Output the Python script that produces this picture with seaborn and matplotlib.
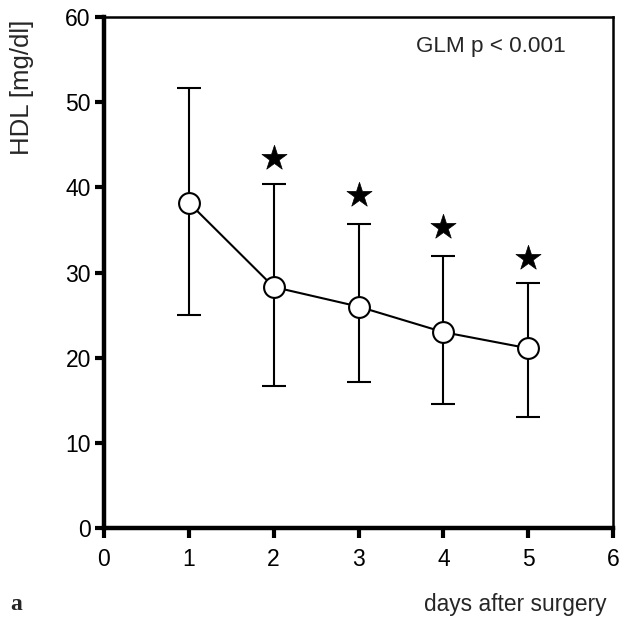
import matplotlib
matplotlib.use("Agg")
import matplotlib.pyplot as plt
import seaborn as sns
import numpy as np
import pandas as pd

days = [1, 2, 3, 4, 5]
hdl_mean = [38.2, 28.3, 26.0, 23.0, 21.1]
hdl_upper = [51.7, 40.4, 35.7, 31.9, 28.8]
hdl_lower = [25.0, 16.7, 17.1, 14.6, 13.0]
star_days = [2, 3, 4, 5]
star_y = [43.4, 39.1, 35.4, 31.7]
x_ticks = [0, 1, 2, 3, 4, 5, 6]
y_ticks = [0, 10, 20, 30, 40, 50, 60]

sns.set_theme(style="white")
plt.rcParams['font.family'] = ['Liberation Sans', 'DejaVu Sans']

df = pd.DataFrame({"day": days, "hdl": hdl_mean})
stars = pd.DataFrame({"day": star_days, "y": star_y})

fig = plt.figure(figsize=(6.29, 6.30), dpi=100)
ax = fig.add_axes([104/629, 1-528/630, (613-104)/629, (528-17)/630])

mean = np.array(hdl_mean)
yerr = np.vstack([mean - np.array(hdl_lower), np.array(hdl_upper) - mean])
ax.errorbar(days, hdl_mean, yerr=yerr, fmt='none', ecolor='black',
            elinewidth=1.5, capsize=8.5, capthick=1.5, zorder=1)
sns.lineplot(data=df, x="day", y="hdl", ax=ax, color='black', linewidth=1.5,
             marker='o', markersize=15, markerfacecolor='white',
             markeredgecolor='black', markeredgewidth=1.5, zorder=3)
sns.scatterplot(data=stars, x="day", y="y", ax=ax, marker='*', s=360,
                color='black', edgecolor='black', linewidth=0.5, zorder=4)

ax.set_xlim(0, 6)
ax.set_ylim(0, 60)
ax.set_xticks(x_ticks)
ax.set_yticks(y_ticks)
ax.tick_params(axis='both', labelsize=16.5, colors='black', direction='out')
ax.tick_params(axis='x', length=7.5, width=3, pad=7)
ax.tick_params(axis='y', length=6.5, width=3, pad=3)
ax.tick_params(left=True, bottom=True)

for s in ['left', 'bottom']:
    ax.spines[s].set_linewidth(3.2)
    ax.spines[s].set_color('black')
for s in ['top', 'right']:
    ax.spines[s].set_linewidth(1.8)
    ax.spines[s].set_color('black')

ax.set_xlabel('')
ax.set_ylabel('')
fig.text(22/629, 1-20/630, 'HDL [mg/dl]', fontsize=18.5, rotation=90,
         ha='center', va='top')
fig.text(606/629, 1-604/630, 'days after surgery', fontsize=16.4, ha='right', va='center')
fig.text(10/629, 1-605/630, 'a', fontsize=17, fontweight='bold',
         family=['Liberation Serif', 'DejaVu Serif'], ha='left', va='center')
ax.text((491-104)/509, 0.943, 'GLM p < 0.001', transform=ax.transAxes,
        fontsize=16.2, ha='center', va='center')

fig.savefig('out.png', dpi=100, facecolor='white')
